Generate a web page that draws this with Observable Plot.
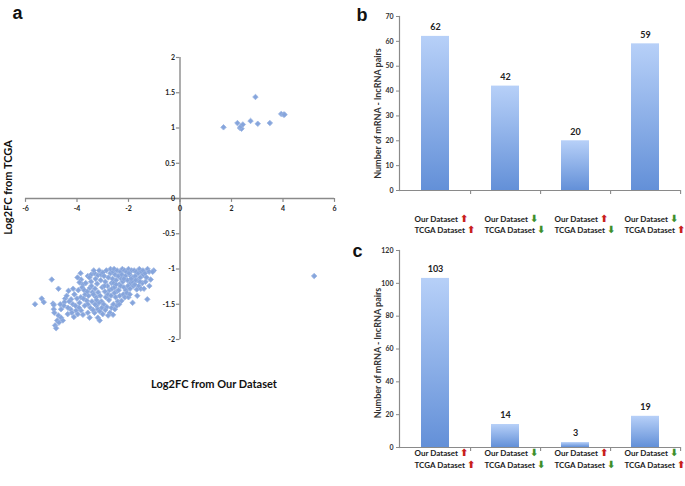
<!DOCTYPE html>
<html><head><meta charset="utf-8">
<script src="https://cdn.jsdelivr.net/npm/d3@7"></script>
<script src="https://cdn.jsdelivr.net/npm/@observablehq/plot@0.6"></script>
<style>
body{margin:0;background:#fff;}
#wrap{position:relative;width:685px;height:486px;overflow:hidden;background:#fff;}
#wrap > div{position:absolute;}
svg{overflow:visible;}
</style></head><body>
<div id="wrap"><div id="pa" style="left:0;top:0"></div><div id="pb" style="left:355px;top:0"></div><div id="pc" style="left:355px;top:240px"></div></div>
<script>
// Panel a: Log2FC from our dataset (x) vs TCGA (y)
const ourFC = [
  1.69, 2.23, 2.33, 2.39, 2.36, 2.44, 2.74, 2.93, 3.02, 3.49, 3.93, 4.02, 4.06, 5.21,
  -5.63,-5.37,-5.29,-4.98,-4.93,-4.90,-4.90,-4.88,-4.72,-4.62,-4.72,-4.77,-4.85,-4.81,-4.46,-4.49,-4.51,-4.33,-4.23,-4.16,-4.25,-4.36,-4.62,-4.55,-4.04,-3.97,-3.84,-3.77,-3.58,-3.51,-3.84,-3.90,-3.77,-3.58,-3.45,-3.32,-3.19,-3.06,-3.25,-3.19,-3.32,-3.19,-3.12,
  -4.40,-4.30,-4.10,-4.00,-3.95,-3.90,-3.85,-3.80,-3.92,-4.06,-4.15,-3.98,-3.86,-4.20,-4.12,-4.70,-4.65,-4.35,
  -3.72,-3.68,-3.75,-3.62,-3.55,-3.50,-3.66,-3.45,-3.40,-3.58,-3.42,-3.48,-3.70,-3.38,-3.60,-3.52,-3.44,
  -3.35,-3.28,-3.22,-3.30,-3.18,-3.26,-3.10,-3.05,-3.15,-3.02,-3.08,-3.00,-3.14,-3.36,-3.24,-3.04,-3.12,-3.00,-3.30,
  -2.95,-2.90,-2.86,-2.82,-2.78,-2.74,-2.70,-2.92,-2.88,-2.80,-2.76,-2.66,-2.62,-2.68,-2.64,-2.96,-2.84,-2.72,-2.79,-2.66,-2.59,-2.60,-2.90,-2.94,-2.70,-2.60,
  -2.56,-2.52,-2.48,-2.44,-2.40,-2.36,-2.32,-2.28,-2.24,-2.54,-2.46,-2.38,-2.30,-2.22,-2.50,-2.42,-2.34,-2.27,-2.20,-2.53,-2.45,-2.58,-2.26,-2.48,-2.36,-2.55,
  -2.16,-2.12,-2.08,-2.04,-2.00,-1.96,-1.92,-1.88,-1.84,-2.18,-2.10,-2.02,-1.94,-1.86,-2.14,-2.06,-1.98,-1.90,-1.82,-1.84,-2.00,-2.18,-1.95,
  -1.78,-1.74,-1.70,-1.66,-1.62,-1.58,-1.54,-1.50,-1.46,-1.42,-1.76,-1.68,-1.60,-1.66,-1.52,-1.44,-1.72,-1.56,
  -1.36,-1.30,-1.26,-1.20,-1.14,-1.19,-1.27,-1.02,-1.06,-1.34,-1.40
];
const tcgaFC = [
  1.01, 1.07, 1.00, 0.99, 1.02, 1.05, 1.10, 1.44, 1.06, 1.07, 1.20, 1.19, 1.19, -1.10,
  -1.50,-1.42,-1.47,-1.15,-1.49,-1.51,-1.57,-1.62,-1.28,-1.57,-1.66,-1.73,-1.80,-1.84,-1.42,-1.47,-1.52,-1.31,-1.43,-1.50,-1.57,-1.64,-1.69,-1.73,-1.59,-1.64,-1.59,-1.65,-1.62,-1.69,-1.15,-1.19,-1.22,-1.10,-1.08,-1.06,-1.09,-1.08,-1.52,-1.57,-1.62,-1.69,-1.73,
  -1.38,-1.46,-1.36,-1.42,-1.30,-1.48,-1.40,-1.26,-1.55,-1.52,-1.28,-1.12,-1.06,-1.62,-1.68,-1.76,-1.50,-1.55,
  -1.30,-1.36,-1.42,-1.45,-1.38,-1.27,-1.20,-1.18,-1.33,-1.50,-1.46,-1.55,-1.52,-1.58,-1.32,-1.12,-1.24,
  -1.02,-1.14,-1.21,-1.28,-1.33,-1.40,-1.38,-1.46,-1.48,-1.26,-1.16,-1.05,-1.02,-1.36,-1.44,-1.55,-1.60,-1.64,-1.50,
  -1.10,-1.18,-1.02,-1.24,-1.12,-1.30,-1.06,-1.32,-1.40,-1.36,-1.44,-1.20,-1.14,-1.38,-1.28,-1.50,-1.54,-1.62,-1.66,-1.55,-1.50,-1.65,-1.58,-1.24,-1.00,-1.04,
  -1.00,-1.08,-1.16,-1.02,-1.10,-1.22,-1.04,-1.14,-1.00,-1.26,-1.32,-1.30,-1.24,-1.18,-1.40,-1.46,-1.38,-1.45,-1.36,-1.57,-1.52,-1.20,-1.08,-1.22,-1.50,-1.34,
  -1.02,-1.10,-1.04,-1.16,-1.00,-1.08,-1.20,-1.02,-1.12,-1.26,-1.30,-1.24,-1.28,-1.18,-1.40,-1.34,-1.06,-1.14,-1.24,-1.48,-1.40,-1.14,-1.36,
  -1.02,-1.10,-1.04,-1.16,-1.06,-1.00,-1.12,-1.04,-1.20,-1.08,-1.22,-1.29,-1.24,-1.38,-1.28,-1.02,-1.16,-1.18,
  -1.06,-1.12,-1.00,-1.04,-1.15,-1.24,-1.43,-1.02,-1.04,-1.18,-1.28
];
const xTicksA = [-6, -4, -2, 0, 2, 4, 6];
const yTicksA = [-2, -1.5, -1, -0.5, 0, 0.5, 1, 1.5, 2];

// Panels b and c
const categories = ["up-up", "down-down", "up-down", "down-up"];
const ourDir = ["up", "down", "up", "down"];
const tcgaDir = ["up", "down", "down", "up"];
const pairsB = [62, 42, 20, 59];
const pairsC = [103, 14, 3, 19];
const yTicksB = [0, 10, 20, 30, 40, 50, 60, 70];
const yTicksC = [0, 20, 40, 60, 80, 100, 120];
const yTitle = "Number of mRNA - lncRNA pairs";

const FONT = "Lato, 'Open Sans', 'DejaVu Sans', sans-serif";
const AXIS = "#8a8a8a";

const pts = ourFC.map((x, i) => ({x, y: tcgaFC[i]}));

const chartA = Plot.plot({
  width: 355, height: 400,
  marginLeft: 25, marginRight: 21, marginTop: 57, marginBottom: 61,
  x: {domain: [-6, 6], axis: null},
  y: {domain: [-2, 2], axis: null},
  style: {fontFamily: FONT, background: "transparent", overflow: "visible"},
  marks: [
    Plot.ruleY([0], {stroke: AXIS, strokeWidth: 1.4}),
    Plot.ruleX([0], {stroke: AXIS, strokeWidth: 1.4}),
    Plot.ruleX(xTicksA, {x: d => d, y1: 0, y2: -0.055, stroke: AXIS, strokeWidth: 1.2}),
    Plot.ruleY(yTicksA, {y: d => d, x1: -0.14, x2: 0, stroke: AXIS, strokeWidth: 1.2}),
    Plot.text(xTicksA, {x: d => d, y: 0, dy: 10, text: d => String(d), fontSize: 7, fontWeight: "bold", fill: "#222"}),
    Plot.text(yTicksA, {x: 0, y: d => d, dx: -5, textAnchor: "end", text: d => String(d), fontSize: 7, fontWeight: "bold", fill: "#222"}),
    Plot.dot(pts, {x: "x", y: "y", symbol: "diamond2", r: 2.5, fill: "#86a5dc", stroke: "#9db6e3", strokeWidth: 0.8}),
    Plot.text(["Log2FC from TCGA"], {frameAnchor: "left", textAnchor: "middle", dx: -17, dy: -11, rotate: -90, fontSize: 11, fontWeight: "bold", fill: "#111"}),
    Plot.text(["Log2FC from Our Dataset"], {frameAnchor: "bottom", textAnchor: "middle", dx: 34, dy: 48, fontSize: 11, fontWeight: "bold", fill: "#111"}),
    Plot.text(["a"], {frameAnchor: "top-left", dx: -13, dy: -51, fontSize: 18, fontWeight: "bold", fill: "#111", fontFamily: "'Liberation Sans', Arial, sans-serif"})
  ]
});
document.getElementById("pa").appendChild(chartA);

const ARROW = {up: "\u2B06", down: "\u2B07"};

function barChart(values, yMax, yTicks, opts) {
  const data = categories.map((c, i) => ({c, v: values[i], our: ourDir[i], tcga: tcgaDir[i]}));
  const gid = "grad-" + opts.id;
  const tickLen = yMax * 4 / opts.frameH;
  return Plot.plot({
    width: 330, height: opts.height,
    marginLeft: 44, marginRight: 5, marginTop: opts.marginTop, marginBottom: opts.marginBottom,
    x: {domain: categories, paddingInner: 0.6, paddingOuter: 0.3, axis: null},
    y: {domain: [0, yMax], axis: null},
    style: {fontFamily: FONT, background: "transparent", overflow: "visible"},
    marks: [
      () => {
        const defs = d3.create("svg:defs");
        const g = defs.append("linearGradient").attr("id", gid)
          .attr("x1", 0).attr("y1", 0).attr("x2", 0).attr("y2", 1);
        g.append("stop").attr("offset", "0%").attr("stop-color", "#b7d0f8");
        g.append("stop").attr("offset", "100%").attr("stop-color", "#6390d8");
        return defs.node();
      },
      Plot.barY(data, {x: "c", y: "v", fill: `url(#${gid})`}),
      Plot.axisY(yTicks, {tickSize: 3, tickPadding: 3, label: null, fontSize: 7, fontWeight: "bold", stroke: AXIS, fill: "#333", tickFormat: d => String(d)}),
      Plot.frame({anchor: "left", stroke: AXIS, strokeWidth: 1.2}),
      Plot.ruleY([0], {stroke: AXIS, strokeWidth: 1.2}),
      Plot.ruleX(categories, {x: d => d, dx: 35.1, y1: 0, y2: -tickLen, stroke: AXIS, strokeWidth: 1.1}),
      Plot.text(data, {x: "c", y: "v", dy: -9, text: d => String(d.v), fontSize: 9, fontWeight: "bold", fill: "#222"}),
      Plot.text(data, {x: "c", frameAnchor: "bottom", dy: opts.line1, dx: -21, textAnchor: "start",
        text: d => "Our Dataset " + ARROW[d.our], fontSize: 8, fontWeight: "bold", fill: "#222"}),
      Plot.text(data, {x: "c", frameAnchor: "bottom", dy: opts.line2, dx: -21, textAnchor: "start",
        text: d => "TCGA Dataset " + ARROW[d.tcga], fontSize: 8, fontWeight: "bold", fill: "#222"}),
      Plot.text([yTitle], {frameAnchor: "left", textAnchor: "middle", dx: -21, dy: opts.titleDy, rotate: -90, fontSize: 9, fontWeight: "bold", fill: "#333"}),
      Plot.text([opts.letter], {frameAnchor: "top-left", dx: opts.letterDx, dy: opts.letterDy, fontSize: 18, fontWeight: "bold", fill: "#111", fontFamily: "'Liberation Sans', Arial, sans-serif"})
    ]
  });
}

function colorArrows(svg) {
  svg.querySelectorAll("text").forEach(t => {
    if (t.querySelector("tspan")) return;
    const s = t.textContent;
    const m = s.match(/[\u2B06\u2B07]/);
    if (!m) return;
    t.textContent = s.slice(0, m.index);
    const ts = document.createElementNS("http://www.w3.org/2000/svg", "tspan");
    ts.setAttribute("fill", m[0] === "\u2B06" ? "#c8201c" : "#3f8f2c");
    ts.setAttribute("font-family", "'DejaVu Sans', sans-serif");
    ts.setAttribute("font-size", "10");
    ts.textContent = m[0];
    t.appendChild(ts);
  });
}

const chartB = barChart(pairsB, 70, yTicksB, {id: "b", height: 240, marginTop: 16, marginBottom: 50, frameH: 174,
  line1: 31, line2: 42, titleDy: 10, letter: "b", letterDx: -43, letterDy: -8});
colorArrows(chartB);
document.getElementById("pb").appendChild(chartB);

const chartC = barChart(pairsC, 120, yTicksC, {id: "c", height: 246, marginTop: 10, marginBottom: 39, frameH: 197,
  line1: 8, line2: 20, titleDy: 4, letter: "c", letterDx: -47, letterDy: -6});
colorArrows(chartC);
document.getElementById("pc").appendChild(chartC);
</script>
</body></html>
